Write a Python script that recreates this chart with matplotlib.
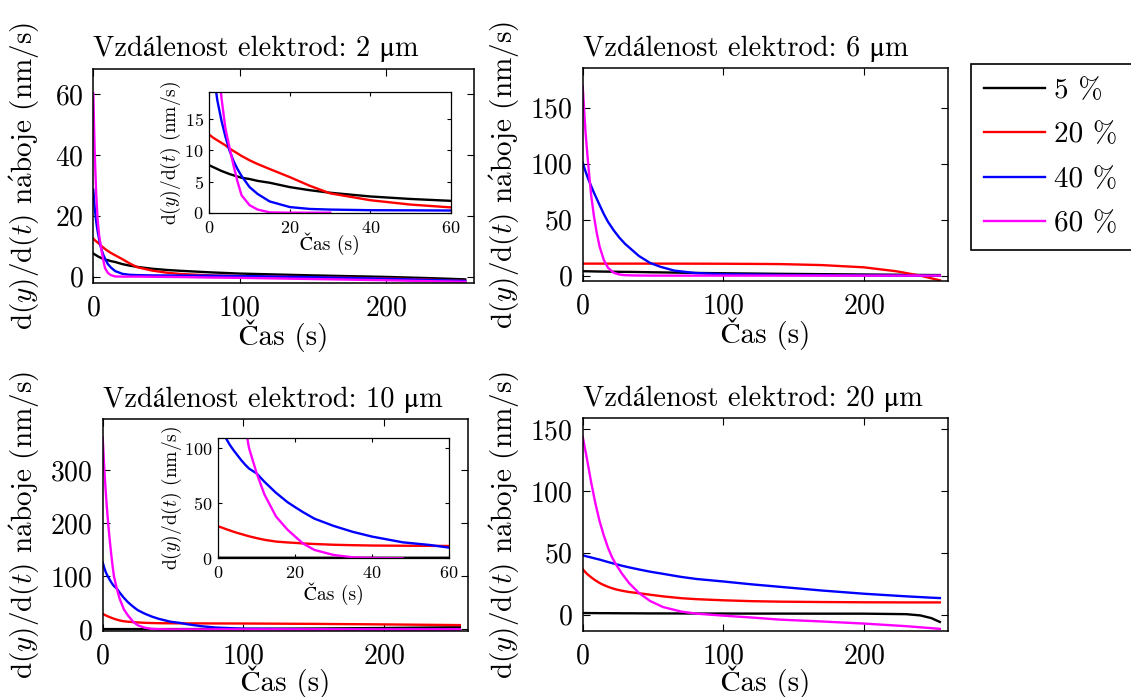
import numpy as np
import matplotlib
matplotlib.use("Agg")
import matplotlib.pyplot as plt

plt.rcParams.update({
    "font.family": ["cmr10", "STIXGeneral"],
    "mathtext.fontset": "cm",
    "axes.formatter.use_mathtext": True,
    "axes.unicode_minus": False,
})

# ---------------- data ----------------
series_labels = ["5 %", "20 %", "40 %", "60 %"]
series_colors = ["#000000", "#ff0000", "#0000ff", "#ff00ff"]
titles = ["2", "6", "10", "20"]

# Panel 1: electrode distance 2 um
t1 = [0, 1, 2, 3, 4, 5, 6, 7, 8, 10, 12, 15, 20, 25, 30, 40, 50, 60, 80, 100, 150, 200, 230, 254]
p1_5 = [7.6, 7.3, 7.0, 6.7, 6.45, 6.2, 6.0, 5.8, 5.6, 5.4, 5.1, 4.8, 4.1, 3.6, 3.2, 2.6, 2.2, 1.9, 1.4, 1.0, 0.4, -0.1, -0.5, -0.9]
p1_20 = [12.5, 12.0, 11.6, 11.2, 10.8, 10.3, 9.9, 9.5, 9.1, 8.4, 7.8, 7.0, 5.7, 4.3, 3.1, 2.0, 1.3, 0.85, 0.4, 0.2, -0.2, -0.6, -1.0, -1.4]
p1_40 = [28.6, 22.5, 18.0, 14.8, 12.2, 10.0, 8.3, 7.0, 5.9, 4.1, 3.0, 1.8, 0.9, 0.6, 0.5, 0.4, 0.38, 0.35, 0.3, 0.2, -0.2, -0.7, -1.1, -1.4]
p1_60 = [60.3, 40.0, 27.0, 18.5, 13.5, 10.5, 7.6, 5.0, 2.8, 1.2, 0.5, 0.05, 0.0, 0.0, 0.0, -0.05, -0.1, -0.15, -0.3, -0.4, -0.8, -1.2, -1.5, -1.7]

# Panel 2: electrode distance 6 um
t2 = [0, 2, 4, 6, 8, 10, 12, 15, 18, 22, 26, 30, 35, 40, 48, 55, 65, 80, 100, 140, 170, 200, 223, 240, 254]
p2_5 = [3.9, 3.9, 3.85, 3.8, 3.75, 3.7, 3.65, 3.6, 3.55, 3.5, 3.4, 3.35, 3.3, 3.2, 3.0, 2.9, 2.7, 2.4, 2.1, 1.6, 1.3, 1.0, 0.8, 0.6, 0.5]
p2_20 = [10.7, 10.7, 10.7, 10.7, 10.7, 10.7, 10.7, 10.7, 10.7, 10.7, 10.7, 10.7, 10.7, 10.7, 10.7, 10.7, 10.7, 10.65, 10.6, 10.3, 9.4, 7.4, 3.9, 0.0, -4.2]
p2_40 = [101, 93, 86, 80, 74, 68.5, 63, 55, 48, 40.5, 34, 28.5, 23, 17.5, 11.3, 8.0, 4.5, 2.3, 1.3, 0.6, 0.3, 0.1, 0.0, -0.1, -0.2]
p2_60 = [169, 128, 98, 72, 53, 38, 26, 14, 7, 2.6, 1.0, 0.4, 0.2, 0.1, 0, 0, 0, 0, 0, 0, 0, 0, 0, 0, 0]

# Panel 3: electrode distance 10 um
t3 = [0, 1, 2, 3, 4, 5, 6, 7, 8, 10, 12, 15, 18, 20, 22, 25, 30, 35, 40, 48, 55, 60, 70, 80, 100, 150, 200, 254]
p3_5 = [0.5, 0.5, 0.5, 0.5, 0.5, 0.5, 0.5, 0.5, 0.5, 0.5, 0.5, 0.5, 0.5, 0.5, 0.5, 0.5, 0.5, 0.5, 0.5, 0.5, 0.5, 0.5, 0.6, 0.7, 0.9, 1.6, 2.5, 4.0]
p3_20 = [29.0, 27.8, 26.5, 25.3, 24.1, 23.0, 22.0, 21.0, 20.0, 18.3, 16.8, 15.2, 14.4, 14.0, 13.5, 13.0, 12.3, 11.9, 11.6, 11.4, 11.3, 11.2, 11.2, 11.1, 11.0, 10.3, 9.3, 8.0]
p3_40 = [126, 117, 109, 103, 98, 93.5, 89, 85, 81.5, 77, 69.5, 59.5, 51, 46.4, 42, 36, 29.4, 24, 19.7, 14.5, 12.1, 9.7, 6.0, 3.5, 1.2, 0.3, 0.1, 0.0]
p3_60 = [361, 310, 265, 228, 196, 168, 143, 120, 100, 77, 58, 38, 26, 19.7, 13.5, 7.6, 3.0, 0.9, 0.3, 0, 0, 0, 0, 0, 0, 0, 0, 0]

# Panel 4: electrode distance 20 um
t4 = [0, 3, 6, 9, 12, 15, 18, 21, 24, 28, 33, 40, 48, 57, 70, 81, 100, 120, 140, 170, 200, 230, 240, 248, 254]
p4_5 = [1.3, 1.3, 1.25, 1.25, 1.2, 1.2, 1.2, 1.15, 1.15, 1.1, 1.1, 1.05, 1.0, 1.0, 0.95, 0.9, 0.9, 0.85, 0.85, 0.8, 0.8, 0.4, -0.6, -2.8, -5.9]
p4_20 = [36.7, 33.0, 30.2, 27.7, 25.6, 23.9, 22.5, 21.3, 20.3, 19.3, 18.3, 17.3, 16.1, 14.8, 13.3, 12.5, 11.6, 10.9, 10.5, 10.2, 10.0, 9.9, 9.9, 9.9, 9.9]
p4_40 = [48.0, 47.0, 46.2, 45.3, 44.5, 43.5, 42.5, 41.6, 40.7, 39.5, 38.2, 36.5, 34.7, 33.0, 30.5, 28.8, 26.8, 24.5, 22.5, 19.5, 16.9, 14.8, 14.2, 13.7, 13.4]
p4_60 = [143.8, 126, 107, 90, 75.5, 64, 54, 46, 40, 33, 25.5, 17.5, 11, 6.2, 2.5, 0.8, -0.8, -2.3, -4.0, -5.5, -7.2, -9.3, -10.2, -10.9, -11.5]

panels = [
    (t1, [p1_5, p1_20, p1_40, p1_60]),
    (t2, [p2_5, p2_20, p2_40, p2_60]),
    (t3, [p3_5, p3_20, p3_40, p3_60]),
    (t4, [p4_5, p4_20, p4_40, p4_60]),
]
yticks_main = [[0, 20, 40, 60], [0, 50, 100, 150], [0, 100, 200, 300], [0, 50, 100, 150]]
xticks_main = [0, 100, 200]

# ---------------- layout ----------------
W, H = 1131, 697
def rect(l, t, r, b):
    return [l / W, (H - b) / H, (r - l) / W, (b - t) / H]

fig = plt.figure(figsize=(W / 100, H / 100), dpi=100)

main_rects = [rect(93.3, 69, 474, 283), rect(582.7, 68.3, 948.3, 281),
              rect(102.7, 419, 468.3, 631), rect(582.7, 418.3, 948.3, 631)]
ylims = [(-2.1, 68.3), (-4.8, 185), (-3.1, 396), (-13.2, 158.6)]
ylab_x = [-0.135, -0.165, -0.165, -0.165]
xlab_y = [-0.17, -0.17, -0.163, -0.163]

ylab = r"d($y$)/d($t$) n$\acute{\mathrm{a}}$boje (nm/s)"
xlab = "Čas (s)"

def style(ax, fs, ticklen, xpad, ypad, lw):
    ax.tick_params(direction="in", top=True, right=True, length=ticklen,
                   width=0.8, labelsize=fs)
    ax.tick_params(axis="x", pad=xpad)
    ax.tick_params(axis="y", pad=ypad)
    for s in ax.spines.values():
        s.set_linewidth(lw)

handles = []
for i, (t, ys) in enumerate(panels):
    ax = fig.add_axes(main_rects[i])
    for y, c in zip(ys, series_colors):
        ln, = ax.plot(t, y, color=c, lw=1.7)
        if i == 0:
            handles.append(ln)
    ax.set_xlim(0, 260)
    ax.set_ylim(*ylims[i])
    ax.set_xticks(xticks_main)
    ax.set_yticks(yticks_main[i])
    style(ax, 20, 4.8, 9, 7, 1.1)
    ax.set_ylabel(ylab, fontsize=21)
    ax.set_xlabel(xlab, fontsize=21)
    ax.yaxis.set_label_coords(ylab_x[i], 0.5)
    ax.xaxis.set_label_coords(0.5, xlab_y[i])
    ax.set_title("Vzdálenost elektrod: %s μm" % titles[i],
                 fontsize=20.5, loc="left", pad=9)

# insets
inset_specs = [
    (0, rect(209.3, 92.3, 451, 212.7), (0, 19.3), [0, 5, 10, 15], 30, -0.11, -0.16),
    (2, rect(218.3, 438.3, 449, 558.3), (0, 109), [0, 50, 100], 48, -0.148, -0.2),
]
ylab_in = r"d($y$)/d($t$) (nm/s)"
for pi, r, yl, yt, tmax_mag, lx, ly in inset_specs:
    t, ys = panels[pi]
    ax = fig.add_axes(r)
    tt = np.asarray(t, dtype=float)
    for k, (y, c) in enumerate(zip(ys, series_colors)):
        yy = np.asarray(y, dtype=float)
        if k == 3:
            m = tt <= tmax_mag
            ax.plot(tt[m], yy[m], color=c, lw=1.7)
        else:
            ax.plot(tt, yy, color=c, lw=1.7)
    ax.set_xlim(0, 60)
    ax.set_ylim(*yl)
    ax.set_xticks([0, 20, 40, 60])
    ax.set_yticks(yt)
    style(ax, 13, 3, 5, 4, 0.9)
    ax.set_ylabel(ylab_in, fontsize=14)
    ax.set_xlabel(xlab, fontsize=14)
    ax.yaxis.set_label_coords(lx, 0.5)
    ax.xaxis.set_label_coords(0.5, ly)

leg = fig.legend(handles, series_labels,
                 loc="upper left", mode="expand",
                 bbox_to_anchor=(971 / W, 0, 190 / W, (H - 64.3) / H),
                 fontsize=21, frameon=True, fancybox=False, borderaxespad=0,
                 handlelength=2.1, handletextpad=0.3, labelspacing=0.62, borderpad=0.45)
leg.get_frame().set_edgecolor("black")
leg.get_frame().set_linewidth(1.2)
leg.get_frame().set_alpha(1)
for l in leg.get_lines():
    l.set_linewidth(1.7)

fig.savefig("out.png", dpi=100)
